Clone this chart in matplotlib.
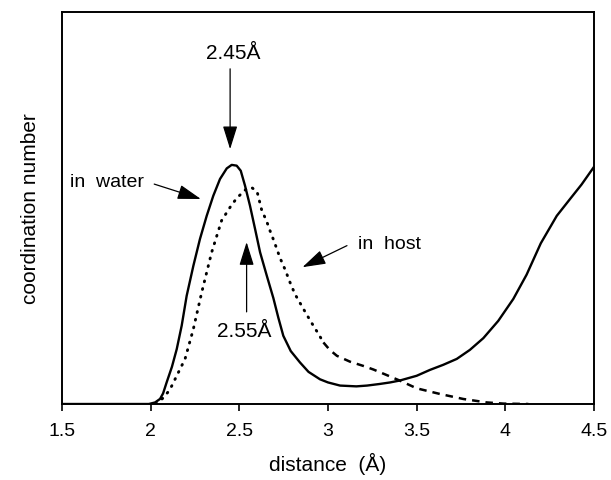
import matplotlib
matplotlib.use("Agg")
import matplotlib.pyplot as plt
import numpy as np

plt.rcParams['font.family'] = ['Liberation Sans', 'DejaVu Sans']

# in water (solid)
water_x = [1.50, 1.99, 2.025, 2.053, 2.07, 2.09, 2.12, 2.147, 2.175, 2.203, 2.241, 2.278,
           2.316, 2.353, 2.391, 2.429, 2.457, 2.485, 2.508, 2.532, 2.56, 2.589, 2.617,
           2.655, 2.692, 2.72, 2.748, 2.79, 2.842, 2.89, 2.955, 3.0, 3.068, 3.16, 3.22,
           3.29, 3.35, 3.406, 3.50, 3.575, 3.65, 3.726, 3.80, 3.876, 3.96, 4.045, 4.12,
           4.20, 4.29, 4.365, 4.43, 4.50]
water_y = [0.0, 0.0, 0.004, 0.013, 0.027, 0.055, 0.095, 0.14, 0.20, 0.276, 0.353, 0.421,
           0.480, 0.531, 0.574, 0.601, 0.610, 0.608, 0.595, 0.557, 0.506, 0.446, 0.387,
           0.327, 0.270, 0.220, 0.174, 0.135, 0.106, 0.082, 0.063, 0.055, 0.047, 0.045, 0.047,
           0.051, 0.055, 0.060, 0.072, 0.087, 0.100, 0.115, 0.138, 0.168, 0.212, 0.268, 0.330,
           0.410, 0.480, 0.523, 0.560, 0.605]

# in host (dotted / dashed)
host_x = [2.03, 2.053, 2.08, 2.11, 2.147, 2.194, 2.24, 2.288, 2.316, 2.344, 2.373, 2.40,
          2.448, 2.485, 2.538, 2.57, 2.60, 2.626, 2.655, 2.673, 2.696, 2.73, 2.758, 2.786,
          2.814, 2.842, 2.88, 2.917, 2.95, 2.974, 3.01, 3.05, 3.124, 3.20, 3.256, 3.33,
          3.406, 3.50, 3.632, 3.763, 3.895, 3.99, 4.13]
host_y = [0.0, 0.008, 0.02, 0.038, 0.072, 0.115, 0.19, 0.285, 0.336, 0.387, 0.429, 0.468,
          0.502, 0.525, 0.548, 0.552, 0.542, 0.495, 0.465, 0.442, 0.415, 0.372, 0.343, 0.310,
          0.280, 0.258, 0.228, 0.200, 0.176, 0.157, 0.138, 0.123, 0.108, 0.097, 0.088, 0.074,
          0.0595, 0.040, 0.0255, 0.0128, 0.004, 0.001, 0.0]

xticks = [1.5, 2.0, 2.5, 3.0, 3.5, 4.0, 4.5]
xtick_labels = ["1.5", "2", "2.5", "3", "3.5", "4", "4.5"]

W, H = 611, 481
fig = plt.figure(figsize=(W / 100, H / 100), dpi=100)
ax = fig.add_axes([62 / W, (H - 405) / H, 532 / W, 392 / H])

ax.plot(water_x, water_y, color='black', lw=1.7, solid_capstyle='round',
        solid_joinstyle='round')

hx = np.array(host_x)
hy = np.array(host_y)
m1 = hx <= 2.98
m2 = hx >= 2.974
ax.plot(hx[m1], hy[m1], color='black', lw=2.1, linestyle=(0, (0.3, 2.4)),
        dash_capstyle='round')
ax.plot(hx[m2], hy[m2], color='black', lw=1.8, linestyle=(0, (3.0, 2.4)))

ax.set_xlim(1.5, 4.5)
ax.set_ylim(0, 1)
ax.set_xticks(xticks)
ax.set_xticklabels(xtick_labels, fontsize=14)
ax.set_yticks([])
ax.tick_params(axis='x', direction='out', length=5, width=1.2, pad=8)
for s in ax.spines.values():
    s.set_linewidth(1.4)

ax.set_xlabel("distance  (Å)", fontsize=15, labelpad=9)
ax.set_ylabel("coordination number", fontsize=15, labelpad=16)

aprops = dict(arrowstyle='-|>,head_length=1.44,head_width=0.45', mutation_scale=10,
              color='black', lw=0.9, shrinkA=0, shrinkB=0)

ax.annotate("", xy=(2.448, 0.65), xytext=(2.448, 0.855), arrowprops=aprops)
ax.text(2.465, 0.897, "2.45Å", ha='center', va='center', fontsize=15)

ax.annotate("", xy=(2.541, 0.413), xytext=(2.541, 0.235), arrowprops=aprops)
ax.text(2.53, 0.188, "2.55Å", ha='center', va='center', fontsize=15)

ax.annotate("", xy=(2.283, 0.523), xytext=(2.02, 0.561), arrowprops=aprops)
ax.text(1.545, 0.568, "in  water", ha='left', va='center', fontsize=14)

ax.annotate("", xy=(2.856, 0.349), xytext=(3.107, 0.404), arrowprops=aprops)
ax.text(3.17, 0.41, "in  host", ha='left', va='center', fontsize=14)

fig.savefig("out.png", dpi=100)
